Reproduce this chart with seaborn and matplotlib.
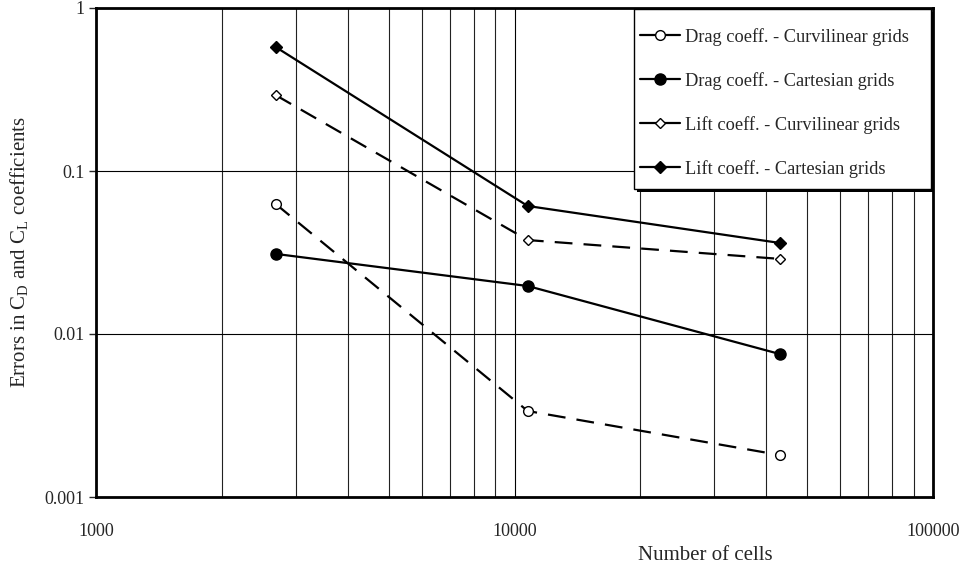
import matplotlib
matplotlib.use("Agg")
import matplotlib.pyplot as plt
from matplotlib.lines import Line2D
from matplotlib.patches import Rectangle
from matplotlib.ticker import FixedLocator, NullFormatter, FuncFormatter
import seaborn as sns
import pandas as pd

# Grid sizes (number of cells) and error levels for each coefficient
cells = [2688, 10752, 43008]
drag_curvilinear = [0.0627, 0.00337, 0.00181]
drag_cartesian = [0.0310, 0.0197, 0.00754]
lift_curvilinear = [0.292, 0.0377, 0.0289]
lift_cartesian = [0.576, 0.0610, 0.0362]

series_labels = [
    "Drag coeff. - Curvilinear grids",
    "Drag coeff. - Cartesian grids",
    "Lift coeff. - Curvilinear grids",
    "Lift coeff. - Cartesian grids",
]
series_values = [drag_curvilinear, drag_cartesian, lift_curvilinear, lift_cartesian]

x_ticks = [1000, 10000, 100000]
y_ticks = [0.001, 0.01, 0.1, 1]

rows = []
for label, vals in zip(series_labels, series_values):
    for c, v in zip(cells, vals):
        rows.append({"cells": c, "error": v, "series": label})
df = pd.DataFrame(rows)

sns.set_style("white")
plt.rcParams["font.family"] = ["Liberation Serif", "DejaVu Serif"]
plt.rcParams["mathtext.fontset"] = "custom"
plt.rcParams["mathtext.rm"] = "Liberation Serif"
plt.rcParams["mathtext.it"] = "Liberation Serif"

W, H = 962, 571
fig = plt.figure(figsize=(W / 100, H / 100), dpi=100)
ax = fig.add_axes([96 / W, 1 - 497 / H, (933 - 96) / W, (497 - 8) / H])

styles = {
    series_labels[0]: dict(marker="o", mfc="white", ms=7.0, dashed=True),
    series_labels[1]: dict(marker="o", mfc="black", ms=8.0, dashed=False),
    series_labels[2]: dict(marker="D", mfc="white", ms=5.2, dashed=True),
    series_labels[3]: dict(marker="D", mfc="black", ms=5.8, dashed=False),
}

for label in series_labels:
    st = styles[label]
    sub = df[df["series"] == label]
    sns.lineplot(data=sub, x="cells", y="error", ax=ax, color="black",
                 linewidth=1.6, marker=st["marker"], markersize=st["ms"],
                 markerfacecolor=st["mfc"], markeredgecolor="black",
                 markeredgewidth=1.0, legend=False, zorder=3)
    line = ax.get_lines()[-1]
    if st["dashed"]:
        line.set_dashes((8, 5))

ax.set_xscale("log")
ax.set_yscale("log")
ax.set_xlim(1000, 100000)
ax.set_ylim(0.001, 1)

ax.xaxis.set_major_locator(FixedLocator(x_ticks))
ax.yaxis.set_major_locator(FixedLocator(y_ticks))
ax.xaxis.set_major_formatter(FuncFormatter(lambda v, p: f"{v:.0f}"))
ax.yaxis.set_major_formatter(FuncFormatter(lambda v, p: f"{v:g}"))
ax.xaxis.set_minor_formatter(NullFormatter())
ax.yaxis.set_minor_locator(FixedLocator([]))

ax.grid(True, which="major", axis="both", color="black", linewidth=0.8)
ax.grid(True, which="minor", axis="x", color="#222222", linewidth=0.8)

ax.tick_params(axis="x", which="both", length=0, pad=19, labelsize=13)
ax.tick_params(axis="y", which="major", length=5, width=1, direction="out",
               pad=3, labelsize=13, left=True)

for s in ax.spines.values():
    s.set_linewidth(2.0)
    s.set_color("black")

ax.set_xlabel("Number of cells", fontsize=15)
ax.xaxis.set_label_coords((705 - 96) / 837, -0.100)
ax.set_ylabel(r"Errors in C$_\mathrm{D}$ and C$_\mathrm{L}$ coefficients", fontsize=15)
ax.yaxis.set_label_coords(-0.079, 0.5)

# Legend entries: solid sample lines with each series' marker
handles = []
for label in series_labels:
    st = styles[label]
    handles.append(Line2D([0], [0], color="black", linewidth=1.6,
                          marker=st["marker"], markersize=st["ms"],
                          markerfacecolor=st["mfc"], markeredgecolor="black",
                          markeredgewidth=1.0))

# Legend box with a solid drop shadow on the right and bottom
bx0, by0, bx1, by1 = 634, 9, 931, 189
shadow = Rectangle((bx0 + 3, H - by1 - 3), bx1 - bx0, by1 - by0,
                   transform=None, facecolor="black", edgecolor="none", zorder=4)
box = Rectangle((bx0, H - by1), bx1 - bx0, by1 - by0, transform=None,
                facecolor="white", edgecolor="black", linewidth=1.0, zorder=4.5)
fig.add_artist(shadow)
fig.add_artist(box)

leg = fig.legend(handles, series_labels, loc="upper left",
                 bbox_to_anchor=((bx0 + 6) / W, 1 - 28 / H),
                 bbox_transform=fig.transFigure, borderaxespad=0.0,
                 borderpad=0.0, fontsize=13.2, frameon=False,
                 handlelength=2.2, handletextpad=0.25, labelspacing=1.42)
leg.set_zorder(6)

fig.savefig("out.png", dpi=100)
